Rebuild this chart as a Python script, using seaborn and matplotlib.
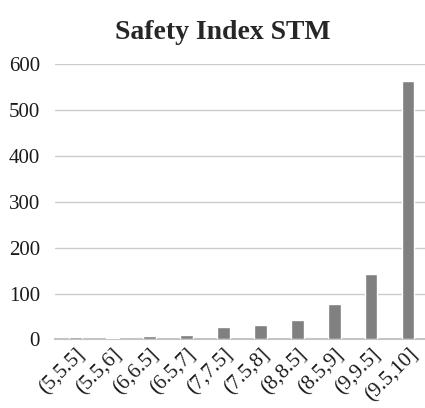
import matplotlib
matplotlib.use("Agg")
import matplotlib.pyplot as plt
import seaborn as sns
import pandas as pd

bins = ["(5,5.5]", "(5.5,6]", "(6,6.5]", "(6.5,7]", "(7,7.5]",
        "(7.5,8]", "(8,8.5]", "(8.5,9]", "(9,9.5]", "(9.5,10]"]
counts = [6, 3, 8, 10, 28, 32, 43, 77, 142, 562]

df = pd.DataFrame({"bin": bins, "count": counts})

sns.set_theme(style="white")
plt.rcParams["font.family"] = ["Liberation Serif", "DejaVu Serif"]

fig, ax = plt.subplots(figsize=(4.25, 4.08), dpi=100)
sns.barplot(data=df, x="bin", y="count", color="#808080", width=0.33,
            saturation=1, ax=ax, zorder=3)

ax.set_ylim(0, 600)
ax.set_yticks(range(0, 601, 100))
ax.yaxis.grid(True, color="#cccccc", linewidth=1)
ax.set_axisbelow(True)
for s in ["top", "right", "left"]:
    ax.spines[s].set_visible(False)
ax.spines["bottom"].set_color("#c4c4c4")
ax.spines["bottom"].set_linewidth(1.5)
ax.spines["bottom"].set_zorder(1)
ax.tick_params(axis="both", length=0, labelsize=15, colors="#1a1a1a")
ax.tick_params(axis="y", pad=11)
ax.tick_params(axis="x", pad=4)
plt.setp(ax.get_xticklabels(), rotation=45, ha="right", rotation_mode="anchor")
ax.set_xlabel("")
ax.set_ylabel("")
ax.set_xlim(-0.55, 9.45)
ax.set_title("Safety Index STM", fontsize=20, fontweight="bold", pad=18, x=0.452)

fig.subplots_adjust(left=0.13, right=1.0, top=0.843, bottom=0.168)
fig.savefig("out.png", dpi=100)
